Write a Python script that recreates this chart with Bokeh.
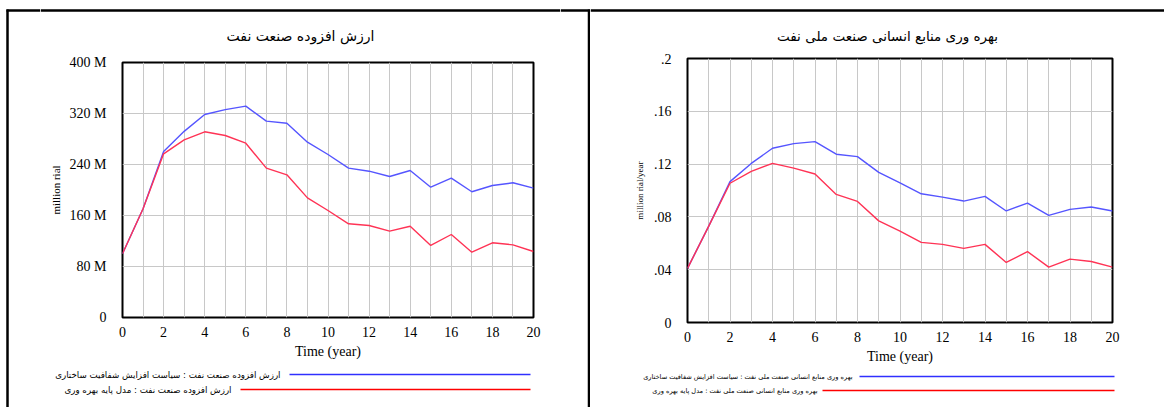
from bokeh.plotting import figure
from bokeh.layouts import row, column
from bokeh.models import Range1d, FixedTicker, CustomJSTickFormatter
from bokeh.core.properties import value
from bokeh.embed import file_html
from bokeh.resources import INLINE

# ---------------- data ----------------
years = list(range(0, 21))

# left chart: value added of oil industry (million rial, shown as M)
va_policy = [100, 170.5, 260.4, 292, 318.4, 326, 331.5, 308, 304.8, 275, 255.7,
             234.3, 229.5, 221.2, 230.6, 204.4, 218.5, 197.2, 207, 211.3, 202.9]
va_base = [100, 170.5, 256.7, 278.7, 291.3, 285.5, 273.4, 234.3, 223.8, 187.7, 167.8,
           147, 144.3, 135.4, 143.2, 113, 130.2, 102.5, 117.2, 114, 103.5]

# right chart: human resources productivity (million rial/year)
hr_policy = [0.041, 0.073, 0.1067, 0.1205, 0.132, 0.1355, 0.137, 0.1275, 0.1257, 0.1137,
             0.1057, 0.0975, 0.095, 0.092, 0.0955, 0.0845, 0.0905, 0.0812, 0.0857, 0.0875, 0.0845]
hr_base = [0.041, 0.073, 0.1055, 0.1145, 0.1205, 0.117, 0.1125, 0.097, 0.0917, 0.077,
           0.0692, 0.0607, 0.0592, 0.0562, 0.0592, 0.0455, 0.0537, 0.042, 0.048, 0.0462, 0.042]

x_ticks = list(range(0, 21, 2))
left_y_ticks = [0, 80, 160, 240, 320, 400]
right_y_ticks = [0, 0.04, 0.08, 0.12, 0.16, 0.2]

left_title = "ارزش افزوده صنعت نفت"
right_title = "بهره وری منابع انسانی صنعت ملی نفت"
left_leg_policy = "ارزش افزوده صنعت نفت : سیاست افزایش شفافیت ساختاری"
left_leg_base = "ارزش افزوده صنعت نفت : مدل پایه بهره وری"
right_leg_policy = "بهره وری منابع انسانی صنعت ملی نفت : سیاست افزایش شفافیت ساختاری"
right_leg_base = "بهره وری منابع انسانی صنعت ملی نفت : مدل پایه بهره وری"

SERIF = "Liberation Serif"
FA = "DejaVu Sans"
BLUE = "#5555ff"
RED = "#ff3355"
LEG_BLUE = "#3030ff"
LEG_RED = "#ff0000"
GRID = "#c8c8c8"
BORDER_W = 2.5


def strip(width, height):
    """A figure whose frame is its whole canvas, in pixel coordinates (y down)."""
    p = figure(width=width, height=height, output_backend="svg", toolbar_location=None,
               title=None, x_axis_location=None, y_axis_location=None,
               x_range=Range1d(0, width), y_range=Range1d(height, 0),
               min_border=0, min_border_left=0, min_border_right=0,
               min_border_top=0, min_border_bottom=0, frame_align=False)
    p.outline_line_color = None
    p.grid.visible = False
    p.background_fill_color = "white"
    p.border_fill_color = "white"
    return p


def vline(p, x, y0, y1):
    p.segment(x0=[x], y0=[y0], x1=[x], y1=[y1], line_color="black", line_width=BORDER_W)


def hline(p, x0, x1, y, color="black", w=BORDER_W):
    p.segment(x0=[x0], y0=[y], x1=[x1], y1=[y], line_color=color, line_width=w)


def chart(width, height, bl, br, bt, bb, ymax, yticks, yfmt, ylabel, ylabel_size, ylabstand,
          s_policy, s_base):
    p = figure(width=width, height=height, output_backend="svg", toolbar_location=None,
               title=None, x_range=Range1d(0, 20), y_range=Range1d(0, ymax),
               min_border_left=bl, min_border_right=br, min_border_top=bt, min_border_bottom=bb,
               frame_align=False)
    p.outline_line_color = "black"
    p.outline_line_width = 2
    p.background_fill_color = "white"
    p.border_fill_color = "white"
    p.xaxis.ticker = FixedTicker(ticks=x_ticks)
    p.yaxis.ticker = FixedTicker(ticks=yticks)
    p.xgrid.ticker = FixedTicker(ticks=years)
    p.ygrid.ticker = FixedTicker(ticks=yticks)
    for g in (p.xgrid, p.ygrid):
        g.grid_line_color = GRID
        g.grid_line_width = 1
    p.yaxis.formatter = CustomJSTickFormatter(code=yfmt)
    for ax in (p.xaxis[0], p.yaxis[0]):
        ax.axis_line_color = None
        ax.major_tick_line_color = None
        ax.minor_tick_line_color = None
        ax.major_label_text_font = SERIF
        ax.major_label_text_font_size = "14px"
        ax.major_label_text_color = "black"
        ax.axis_label_text_font = SERIF
        ax.axis_label_text_font_style = "normal"
        ax.axis_label_text_color = "black"
    p.xaxis.axis_label = "Time (year)"
    p.xaxis.axis_label_text_font_size = "14px"
    p.xaxis.major_label_standoff = 3
    p.xaxis.axis_label_standoff = 4
    p.yaxis.axis_label = ylabel
    p.yaxis.axis_label_text_font_size = ylabel_size
    p.yaxis.major_label_standoff = 10
    p.yaxis.axis_label_standoff = ylabstand
    p.line(years, s_policy, line_color=BLUE, line_width=1.4)
    p.line(years, s_base, line_color=RED, line_width=1.4)
    return p


def legend_rows(p, rows):
    for txt, color, tx, lx0, lx1, y, size in rows:
        p.text(x=[tx], y=[y], text=[txt], text_font=value(FA), text_font_size=size,
               text_color="black", text_align="right", text_baseline="middle")
        hline(p, lx0, lx1, y, color=color, w=1.3)


left_fmt = "return tick == 0 ? '0' : tick + ' M';"
right_fmt = "if (tick == 0) return '0'; var s = tick.toFixed(2).replace(/^0/, ''); return s.replace(/0$/, '');"

# ---------------- left panel (x 0..590) ----------------
# full-height side strips carrying the panel's vertical borders (x 0..40, 560..590)
LS = strip(40, 407)
vline(LS, 7, 9, 407)
hline(LS, 6, 40, 10)
RS = strip(30, 407)
vline(RS, 28.5, 9, 407)
hline(RS, 0, 30, 10)

# middle column (x 40..560)
LT = strip(520, 50)
hline(LT, 0, 520, 10)
LT.text(x=[260], y=[35], text=[left_title], text_font=value(FA), text_font_size="14px",
        text_color="black", text_align="center", text_baseline="middle")

LC = chart(520, 314, 82, 27, 12, 47, 400, left_y_ticks, left_fmt, "million rial", "11px", 5,
           va_policy, va_base)

LB = strip(520, 43)
legend_rows(LB, [(left_leg_policy, LEG_BLUE, 240, 249, 490, 10, "8.7px"),
                 (left_leg_base, LEG_RED, 191, 200, 490, 25, "8.7px")])

left_mid = column(LT, LC, LB)

# ---------------- right panel (x 590..1164) ----------------
RT = strip(574, 48)
hline(RT, 0, 574, 10)
RT.text(x=[297], y=[35], text=[right_title], text_font=value(FA), text_font_size="13.5px",
        text_color="black", text_align="center", text_baseline="middle")

RC = chart(574, 318, 97, 52, 10, 43, 0.2, right_y_ticks, right_fmt, "million rial/year", "9px", 6,
           hr_policy, hr_base)

RB = strip(574, 41)
legend_rows(RB, [(right_leg_policy, LEG_BLUE, 262, 269, 524, 10, "6.6px"),
                 (right_leg_base, LEG_RED, 227, 232, 524, 24, "6.6px")])

right_panel = column(RT, RC, RB)

layout = row(LS, left_mid, RS, right_panel)
open("out.html", "w").write(file_html(layout, INLINE))
